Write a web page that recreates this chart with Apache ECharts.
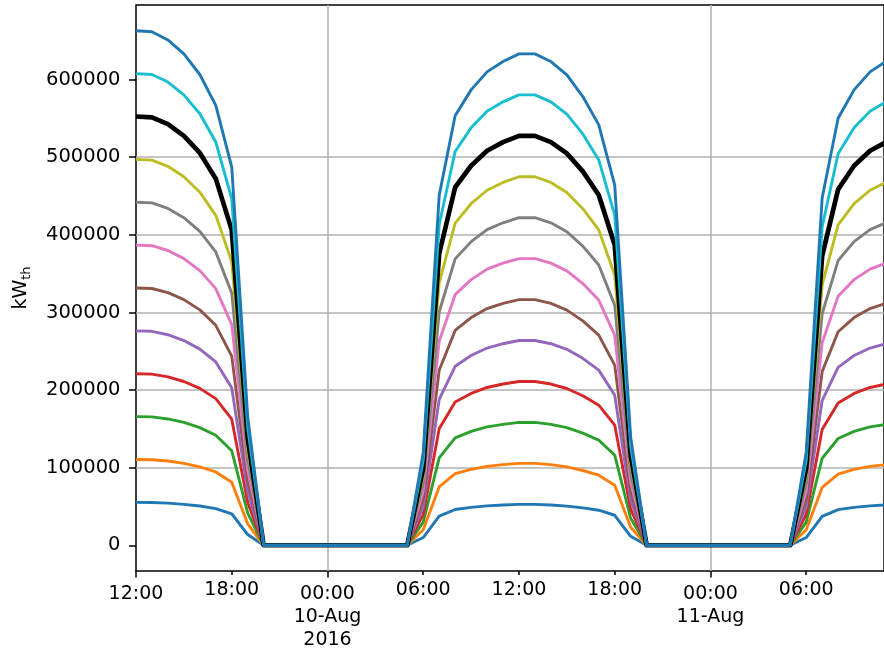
<!DOCTYPE html>
<html>
<head>
<meta charset="utf-8">
<script src="https://cdn.jsdelivr.net/npm/echarts@6/dist/echarts.min.js"></script>
<style>
html,body{margin:0;padding:0;background:#fff;}
#chart{width:884px;height:652px;}
</style>
</head>
<body>
<div id="chart"></div>
<script>
// ---- data (hourly, starting 2016-08-09 12:00) ----
const startTime = Date.UTC(2016, 7, 9, 12, 0);
const nPoints = 48;
const s01 = [55250,55140,54260,52760,50550,47240,40610,13810, 0,0,0,0,0,0,0,0,0,0, 9950,37570,46130,48900,50830,51940,52760,52760,51940,50500,48180,45140,38680,11600, 0,0,0,0,0,0,0,0,0,0, 9950,37290,45860,48900,50830,51940];
const s02 = [110500,110280,108520,105520,101100,94480,81220,27620, 0,0,0,0,0,0,0,0,0,0, 19900,75140,92260,97800,101660,103880,105520,105520,103880,101000,96360,90280,77360,23200, 0,0,0,0,0,0,0,0,0,0, 19900,74580,91720,97800,101660,103880];
const s03 = [165750,165420,162780,158280,151650,141720,121830,41430, 0,0,0,0,0,0,0,0,0,0, 29850,112710,138390,146700,152490,155820,158280,158280,155820,151500,144540,135420,116040,34800, 0,0,0,0,0,0,0,0,0,0, 29850,111870,137580,146700,152490,155820];
const s04 = [221000,220560,217040,211040,202200,188960,162440,55240, 0,0,0,0,0,0,0,0,0,0, 39800,150280,184520,195600,203320,207760,211040,211040,207760,202000,192720,180560,154720,46400, 0,0,0,0,0,0,0,0,0,0, 39800,149160,183440,195600,203320,207760];
const s05 = [276250,275700,271300,263800,252750,236200,203050,69050, 0,0,0,0,0,0,0,0,0,0, 49750,187850,230650,244500,254150,259700,263800,263800,259700,252500,240900,225700,193400,58000, 0,0,0,0,0,0,0,0,0,0, 49750,186450,229300,244500,254150,259700];
const s06 = [331500,330840,325560,316560,303300,283440,243660,82860, 0,0,0,0,0,0,0,0,0,0, 59700,225420,276780,293400,304980,311640,316560,316560,311640,303000,289080,270840,232080,69600, 0,0,0,0,0,0,0,0,0,0, 59700,223740,275160,293400,304980,311640];
const s07 = [386750,385980,379820,369320,353850,330680,284270,96670, 0,0,0,0,0,0,0,0,0,0, 69650,262990,322910,342300,355810,363580,369320,369320,363580,353500,337260,315980,270760,81200, 0,0,0,0,0,0,0,0,0,0, 69650,261030,321020,342300,355810,363580];
const s08 = [442000,441120,434080,422080,404400,377920,324880,110480, 0,0,0,0,0,0,0,0,0,0, 79600,300560,369040,391200,406640,415520,422080,422080,415520,404000,385440,361120,309440,92800, 0,0,0,0,0,0,0,0,0,0, 79600,298320,366880,391200,406640,415520];
const s09 = [497250,496260,488340,474840,454950,425160,365490,124290, 0,0,0,0,0,0,0,0,0,0, 89550,338130,415170,440100,457470,467460,474840,474840,467460,454500,433620,406260,348120,104400, 0,0,0,0,0,0,0,0,0,0, 89550,335610,412740,440100,457470,467460];
const s10 = [552500,551400,542600,527600,505500,472400,406100,138100, 0,0,0,0,0,0,0,0,0,0, 99500,375700,461300,489000,508300,519400,527600,527600,519400,505000,481800,451400,386800,116000, 0,0,0,0,0,0,0,0,0,0, 99500,372900,458600,489000,508300,519400];
const s11 = [607750,606540,596860,580360,556050,519640,446710,151910, 0,0,0,0,0,0,0,0,0,0, 109450,413270,507430,537900,559130,571340,580360,580360,571340,555500,529980,496540,425480,127600, 0,0,0,0,0,0,0,0,0,0, 109450,410190,504460,537900,559130,571340];
const s12 = [663000,661680,651120,633120,606600,566880,487320,165720, 0,0,0,0,0,0,0,0,0,0, 119400,450840,553560,586800,609960,623280,633120,633120,623280,606000,578160,541680,464160,139200, 0,0,0,0,0,0,0,0,0,0, 119400,447480,550320,586800,609960,623280];
const seriesValues = [s01,s02,s03,s04,s05,s06,s07,s08,s09,s10,s11,s12];

// tick positions and labels
const yTicks = [0, 100000, 200000, 300000, 400000, 500000, 600000];
const minorTickTimes = [Date.UTC(2016,7,9,18), Date.UTC(2016,7,10,6), Date.UTC(2016,7,10,12), Date.UTC(2016,7,10,18), Date.UTC(2016,7,11,6)];
const minorTickLabels = ['18:00', '06:00', '12:00', '18:00', '06:00'];
const majorTickTimes = [Date.UTC(2016,7,9,12), Date.UTC(2016,7,10,0), Date.UTC(2016,7,11,0)];
const majorTickLabels = ['12:00', '00:00\n10-Aug\n2016', '00:00\n11-Aug'];
const gridLineTimes = [Date.UTC(2016,7,10,0), Date.UTC(2016,7,11,0)];
const xMin = Date.UTC(2016,7,9,12,0);
const xMax = Date.UTC(2016,7,11,10,52,30);
const yMin = -33150, yMax = 696150;

// ---- styles ----
const colors = ['#1f77b4','#ff7f0e','#2ca02c','#d62728','#9467bd','#8c564b','#e377c2','#7f7f7f','#bcbd22','#000000','#17becf','#1f77b4'];
const widths = [2.9,2.9,2.9,2.9,2.9,2.9,2.9,2.9,2.9,4.7,2.9,2.9];
const FONT = 'DejaVu Sans';

const times = [];
for (let i = 0; i < nPoints; i++) times.push(startTime + i * 3600000);

const series = seriesValues.map((vals, k) => {
  const s = {
    type: 'line',
    name: 'series' + (k + 1),
    xAxisIndex: 0, yAxisIndex: 0,
    data: times.map((t, i) => [t, vals[i]]),
    showSymbol: false,
    symbol: 'none',
    lineStyle: { color: colors[k], width: widths[k], join: 'round', cap: 'butt' },
    itemStyle: { color: colors[k] },
    emphasis: { disabled: true },
    silent: true,
    animation: false
  };
  if (k === 0) {
    s.markLine = {
      silent: true,
      z: 1,
      symbol: ['none', 'none'],
      label: { show: false },
      lineStyle: { color: '#b0b0b0', width: 1.5, type: 'solid' },
      emphasis: { disabled: true },
      animation: false,
      data: gridLineTimes.map(t => ({ xAxis: t }))
    };
  }
  return s;
});

const gridBox = { left: 136, top: 5, right: -2, bottom: 81 };

const chart = echarts.init(document.getElementById('chart'), null, { renderer: 'canvas' });
chart.setOption({
  animation: false,
  textStyle: { fontFamily: FONT, color: '#000' },
  grid: [
    Object.assign({ show: true, borderColor: '#000', borderWidth: 1.5, backgroundColor: 'transparent', containLabel: false }, gridBox),
    Object.assign({ show: false, containLabel: false }, gridBox)
  ],
  xAxis: [
    {
      type: 'value', gridIndex: 0, min: xMin, max: xMax, position: 'bottom',
      axisLine: { show: false, onZero: false },
      splitLine: { show: false },
      axisTick: { show: true, length: 4, lineStyle: { color: '#000', width: 1.5 }, customValues: minorTickTimes },
      axisLabel: {
        customValues: minorTickTimes, margin: 8, fontSize: 19, lineHeight: 23, color: '#000', fontFamily: FONT,
        formatter: v => { const i = minorTickTimes.indexOf(v); return i >= 0 ? minorTickLabels[i] : ''; }
      }
    },
    {
      type: 'value', gridIndex: 1, min: xMin, max: xMax, position: 'bottom',
      axisLine: { show: false, onZero: false },
      splitLine: { show: false },
      axisTick: { show: true, length: 7, lineStyle: { color: '#000', width: 1.5 }, customValues: majorTickTimes },
      axisLabel: {
        customValues: majorTickTimes, margin: 12.5, fontSize: 19, lineHeight: 23, color: '#000', fontFamily: FONT,
        showMinLabel: true,
        formatter: v => { const i = majorTickTimes.indexOf(v); return i >= 0 ? majorTickLabels[i] : ''; }
      }
    }
  ],
  yAxis: [
    {
      type: 'value', gridIndex: 0, min: yMin, max: yMax,
      axisLine: { show: false, onZero: false },
      axisTick: { show: true, length: 7, lineStyle: { color: '#000', width: 1.5 }, customValues: yTicks },
      axisLabel: { customValues: yTicks, margin: 15.5, fontSize: 19.5, color: '#000', fontFamily: FONT, formatter: v => String(Math.round(v)) },
      splitLine: { show: true, showMinLine: false, showMaxLine: false, lineStyle: { color: '#b0b0b0', width: 1.5 } },
      name: '{a|kW}{b|th}',
      nameLocation: 'middle',
      nameRotate: 90,
      nameGap: 103,
      nameTextStyle: {
        color: '#000', fontFamily: FONT, fontSize: 19,
        rich: {
          a: { fontSize: 19, lineHeight: 23, fontFamily: FONT, color: '#000' },
          b: { fontSize: 13, lineHeight: 23, padding: [10, 0, 0, 0], fontFamily: FONT, color: '#000' }
        }
      }
    },
    { type: 'value', gridIndex: 1, min: 0, max: 1, show: false }
  ],
  series: series
});
</script>
</body>
</html>
